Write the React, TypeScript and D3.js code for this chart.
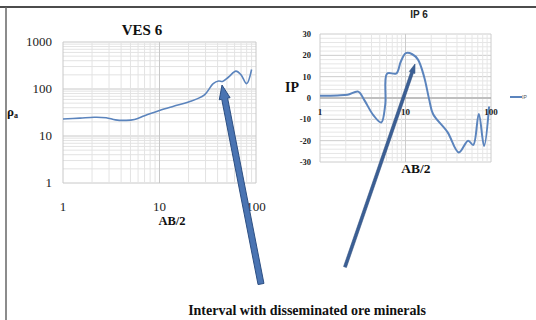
import React from 'react';
import * as d3 from 'd3';

// VES 6 sounding (AB/2 vs apparent resistivity)
const vesAB = [1, 1.5, 2.1, 2.8, 3.5, 4.5, 5.5, 7, 10, 14, 20, 29, 36, 41, 45, 52, 62, 70, 80, 90];
const vesRho = [23, 24, 25, 24.5, 22, 21.5, 22.5, 27, 35, 43, 53, 74, 130, 148, 145, 180, 240, 200, 130, 260];
const vesXTicks = [1, 10, 100];
const vesYTicks = [1, 10, 100, 1000];

// IP 6 sounding
const ipAB = [1, 1.6, 2.1, 2.8, 3.3, 4.2, 5.2, 5.8, 6.1, 7.8, 8.8, 10.1, 12, 14, 16.5, 19, 21, 31, 42, 54, 62, 72, 83, 95];
const ipVal = [1, 1.2, 1.5, 3, -1, -8, -11.5, -3, 11.5, 11.5, 17, 21, 20.5, 18, 10, -1, -7.5, -16, -25.5, -20, -22, -7.5, -22.5, -4];
const ipXTicks = [1, 10, 100];
const ipYTicks = [30, 20, 10, 0, -10, -20, -30];

const serif = '"Liberation Serif", "Times New Roman", serif';
const sans = '"Liberation Sans", Arial, sans-serif';
const lineBlue = '#5b84bd';

const minors = (lo: number, hi: number) => {
  const out: number[] = [];
  for (let d = lo; d < hi; d *= 10) for (let k = 1; k < 10; k++) out.push(d * k);
  out.push(hi);
  return out;
};

// block arrow polygon from tail to tip
const arrowPts = (x0: number, y0: number, x1: number, y1: number, w: number, hw: number, hl: number) => {
  const dx = x1 - x0, dy = y1 - y0;
  const len = Math.hypot(dx, dy);
  const ux = dx / len, uy = dy / len;
  const px = -uy, py = ux;
  const bx = x1 - ux * hl, by = y1 - uy * hl;
  const p = [
    [x0 + px * w / 2, y0 + py * w / 2],
    [bx + px * w / 2, by + py * w / 2],
    [bx + px * hw / 2, by + py * hw / 2],
    [x1, y1],
    [bx - px * hw / 2, by - py * hw / 2],
    [bx - px * w / 2, by - py * w / 2],
    [x0 - px * w / 2, y0 - py * w / 2],
  ];
  return p.map(q => q.join(',')).join(' ');
};

const App = () => {
  // VES panel scales
  const vx = d3.scaleLog().domain([1, 100]).range([63, 256]);
  const vy = d3.scaleLog().domain([1, 1000]).range([183, 42]);
  const vesLine = d3.line<number>()
    .x((_, i) => vx(vesAB[i]))
    .y(d => vy(d))
    .curve(d3.curveCatmullRom.alpha(0.5));

  // IP panel scales
  const ix = d3.scaleLog().domain([1, 100]).range([320, 491]);
  const iy = d3.scaleLinear().domain([-30, 30]).range([162, 34]);
  const ipLine = d3.line<number>()
    .x((_, i) => ix(ipAB[i]))
    .y(d => iy(d))
    .curve(d3.curveCatmullRom.alpha(0.5));

  const ipMinorY = d3.range(-30, 31, 2);

  return (
    <svg width={536} height={320} style={{ position: 'absolute', left: 0, top: 0, background: '#fff' }}>
      {/* frame */}
      <line x1={0} x2={536} y1={7} y2={7} stroke="#111" strokeWidth={1.5} />
      <line x1={6} x2={6} y1={7} y2={320} stroke="#666" strokeWidth={1.5} />

      {/* VES 6 */}
      <g>
        {minors(1, 1000).map(v => (
          <line key={'vh' + v} x1={vx(1)} x2={vx(100)} y1={vy(v)} y2={vy(v)}
            stroke={vesYTicks.includes(v) ? '#c8c8c8' : '#e3e3e3'} strokeWidth={1} />
        ))}
        {minors(1, 100).map(v => (
          <line key={'vv' + v} x1={vx(v)} x2={vx(v)} y1={vy(1000)} y2={vy(1)}
            stroke={vesXTicks.includes(v) ? '#c8c8c8' : '#e3e3e3'} strokeWidth={1} />
        ))}
        <path d={vesLine(vesRho) || ''} fill="none" stroke={lineBlue} strokeWidth={1.6} />
        {vesYTicks.map(v => (
          <text key={'vyt' + v} x={52} y={vy(v) + 4} textAnchor="end" fontFamily={serif} fontSize={13} fill="#222">{v}</text>
        ))}
        {vesXTicks.map(v => (
          <text key={'vxt' + v} x={vx(v)} y={211} textAnchor="middle" fontFamily={serif} fontSize={13} fill="#222">{v}</text>
        ))}
        <text x={142} y={35} textAnchor="middle" fontFamily={serif} fontSize={15} fontWeight="bold" fill="#111">VES 6</text>
        <text x={172} y={225} textAnchor="middle" fontFamily={serif} fontSize={12.5} fontWeight="bold" fill="#111">AB/2</text>
        <text x={7} y={116} fontFamily={serif} fontSize={13} fontWeight="bold" fill="#111">ρ<tspan fontSize={8} dy={2}>a</tspan></text>
      </g>

      {/* IP 6 */}
      <g>
        {ipMinorY.map(v => (
          <line key={'ih' + v} x1={ix(1)} x2={ix(100)} y1={iy(v)} y2={iy(v)}
            stroke={v % 10 === 0 ? '#cccccc' : '#e6e6e6'} strokeWidth={1} />
        ))}
        {minors(1, 100).map(v => (
          <line key={'iv' + v} x1={ix(v)} x2={ix(v)} y1={iy(30)} y2={iy(-30)}
            stroke={ipXTicks.includes(v) ? '#cccccc' : '#e6e6e6'} strokeWidth={1} />
        ))}
        <line x1={ix(1)} x2={ix(100)} y1={iy(0)} y2={iy(0)} stroke="#9a9a9a" strokeWidth={1} />
        <path d={ipLine(ipVal) || ''} fill="none" stroke={lineBlue} strokeWidth={2} />
        {ipYTicks.map(v => (
          <text key={'iyt' + v} x={311} y={iy(v) + 3} textAnchor="end" fontFamily={serif} fontSize={8.5} fontWeight="bold" fill="#222">{v}</text>
        ))}
        {ipXTicks.map(v => (
          <text key={'ixt' + v} x={ix(v)} y={iy(0) + 17} textAnchor="middle" fontFamily={serif} fontSize={9} fontWeight="bold" fill="#222">{v}</text>
        ))}
        <text x={419} y={18} textAnchor="middle" fontFamily={sans} fontSize={10} fontWeight="bold" fill="#222">IP 6</text>
        <text x={285} y={92} fontFamily={serif} fontSize={14} fontWeight="bold" fill="#111">IP</text>
        <text x={416} y={173} textAnchor="middle" fontFamily={serif} fontSize={13.5} fontWeight="bold" fill="#111">AB/2</text>
        <line x1={510} x2={522} y1={97} y2={97} stroke={lineBlue} strokeWidth={2} />
        <text x={522} y={99} fontFamily={sans} fontSize={5} fill="#555">IP</text>
      </g>

      {/* arrows */}
      <polygon points={arrowPts(261, 284, 222, 85, 6, 11, 14)} fill="#4a74b2" stroke="#2d4f82" strokeWidth={1} />
      <polygon points={arrowPts(345, 267, 415, 64, 3, 6, 9)} fill="#3b5f95" stroke="#30507f" strokeWidth={0.6} />

      <text x={307} y={315} textAnchor="middle" fontFamily={serif} fontSize={14} fontWeight="bold" fill="#111">Interval with disseminated ore minerals</text>
    </svg>
  );
};

export default App;
